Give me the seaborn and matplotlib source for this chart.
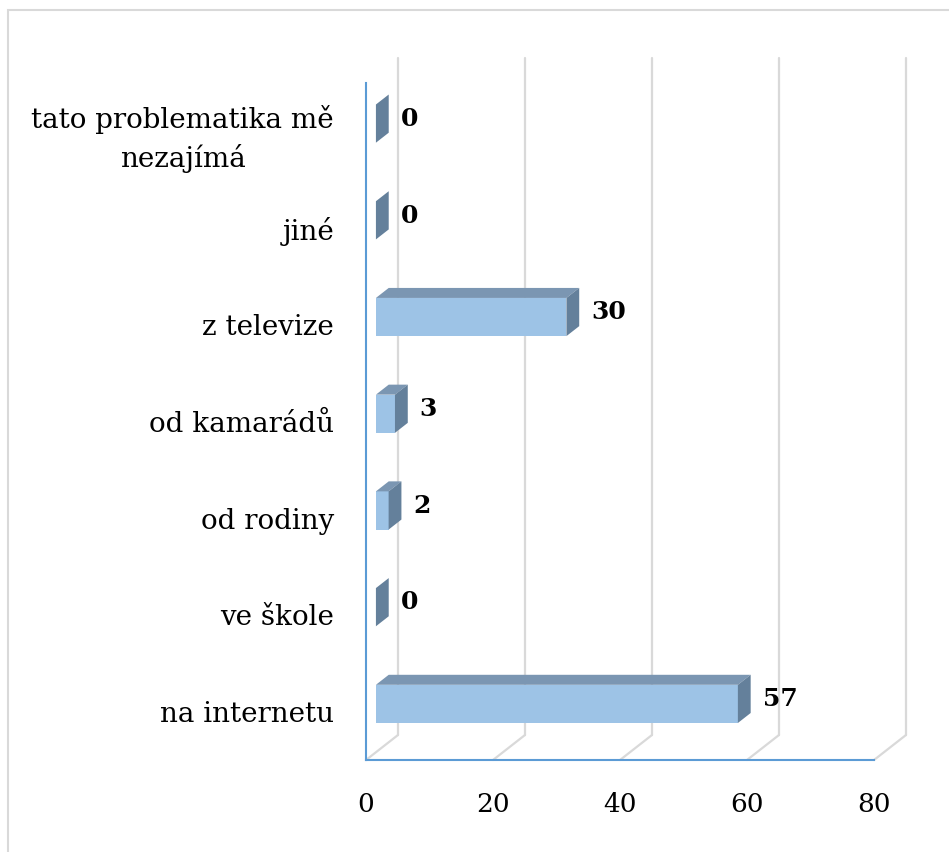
import matplotlib
matplotlib.use('Agg')
import matplotlib.pyplot as plt
from matplotlib.patches import Polygon, Rectangle
import seaborn as sns

# Data
kategorie = ['tato problematika mě\nnezajímá', 'jiné', 'z televize', 'od kamarádů',
             'od rodiny', 've škole', 'na internetu']
pocty = [0, 0, 30, 3, 2, 0, 57]
x_ticks = [0, 20, 40, 60, 80]

# Colors
PREDNI = '#9DC3E6'
HORNI = '#7B96B2'
BOCNI = '#64809B'
OSA = '#5B9BD5'
MRIZKA = '#D9D9D9'

sns.set_style('white')
plt.rcParams['font.family'] = ['DejaVu Serif']
plt.rcParams['text.color'] = 'black'

W, H, DPI = 949, 852, 100
fig = plt.figure(figsize=(W / DPI, H / DPI), dpi=DPI)
ax = fig.add_axes([366 / W, 92 / H, 508 / W, 677 / H])

sns.barplot(x=pocty, y=kategorie, orient='h', color=PREDNI, saturation=1,
            width=0.395, linewidth=0, ax=ax, zorder=3)
ax.set_xlim(0, 80)
ax.set_ylim(6.5, -0.5)


# pixel offset -> data units
def posun(px, py):
    o = ax.transData.transform((0, 0))
    p = ax.transData.inverted().transform((o[0] + px, o[1] + py))
    return p[0], p[1]


hloubka = (32, 25)
dx, dy = posun(*hloubka)
f = (dx * 0.31, dy * 0.31)   # front of the bars
b = (dx * 0.71, dy * 0.71)   # back of the bars

# back wall + floor gridlines
for t in x_ticks:
    ax.plot([t + dx, t + dx], [-0.5 + dy, 6.5 + dy], color=MRIZKA, lw=1.6,
            zorder=0, clip_on=False)
    ax.plot([t, t + dx], [6.5, 6.5 + dy], color=MRIZKA, lw=1.6, zorder=0,
            clip_on=False)

# 3D faces of the bars
for patch in ax.patches[:len(pocty)]:
    x0, y0 = patch.get_x(), patch.get_y()
    w, h = patch.get_width(), patch.get_height()
    x1, y1 = x0 + w, y0 + h
    patch.set_xy((x0 + f[0], y0 + f[1]))
    horni = [(x0 + f[0], y0 + f[1]), (x1 + f[0], y0 + f[1]),
             (x1 + b[0], y0 + b[1]), (x0 + b[0], y0 + b[1])]
    bocni = [(x1 + f[0], y0 + f[1]), (x1 + f[0], y1 + f[1]),
             (x1 + b[0], y1 + b[1]), (x1 + b[0], y0 + b[1])]
    ax.add_patch(Polygon(horni, closed=True, facecolor=HORNI, edgecolor='none', zorder=4))
    ax.add_patch(Polygon(bocni, closed=True, facecolor=BOCNI, edgecolor='none', zorder=4))

# value labels
for i, v in enumerate(pocty):
    ax.annotate(str(v), xy=(v, i), xytext=(25, 9), textcoords='offset points',
                ha='left', va='center', fontsize=18, fontweight='bold',
                color='black', zorder=5)

# axes styling
sns.despine(ax=ax, top=True, right=True)
ax.spines['left'].set_color(OSA)
ax.spines['bottom'].set_color(OSA)
ax.spines['left'].set_linewidth(1.5)
ax.spines['bottom'].set_linewidth(1.5)
ax.set_xticks(x_ticks)
ax.set_xticklabels([str(t) for t in x_ticks])
ax.tick_params(axis='x', length=0, pad=23, labelsize=19, labelcolor='black')
ax.tick_params(axis='y', length=0, pad=23, labelsize=20, labelcolor='black')
for lab in ax.get_yticklabels():
    lab.set_multialignment('center')
    lab.set_linespacing(1.4)
ax.set_xlabel('')
ax.set_ylabel('')
ax.grid(False)

# outer frame of the chart
fig.patches.append(Rectangle((8 / W, -0.1), 1.2, (H - 10) / H + 0.1,
                             transform=fig.transFigure, fill=False,
                             edgecolor=MRIZKA, lw=1.5))

plt.savefig('out.png', dpi=DPI)
